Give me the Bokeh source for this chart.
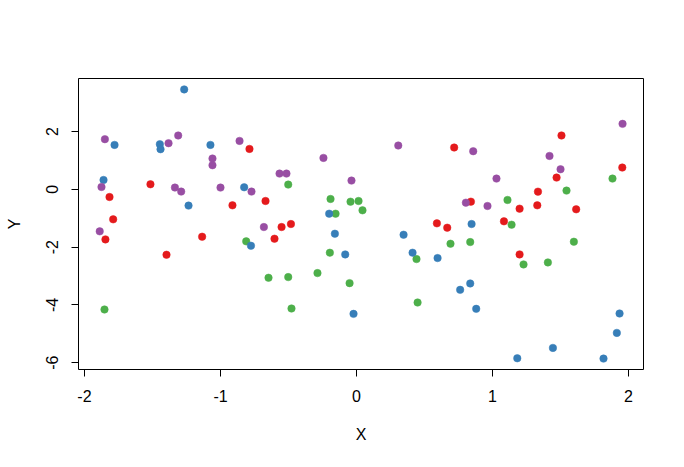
from bokeh.plotting import figure
from bokeh.models import Range1d, FixedTicker
from bokeh.embed import file_html
from bokeh.resources import INLINE

# Series values (4 groups, 25 points each)
red_x = [-1.816, -1.789, -1.846, -1.515, -1.397, -1.135, -0.912, -0.787, -0.669, -0.603,
         -0.551, -0.482, 0.591, 0.667, 0.718, 0.841, 1.084, 1.199, 1.199, 1.329,
         1.334, 1.471, 1.507, 1.615, 1.954]
red_y = [-0.267, -1.040, -1.733, 0.173, -2.265, -1.641, -0.555, 1.397, -0.405, -1.710,
         -1.306, -1.202, -1.179, -1.329, 1.445, -0.427, -1.109, -0.670, -2.253, -0.555,
         -0.081, 0.405, 1.861, -0.693, 0.752]

blue_x = [-1.267, -1.779, -1.446, -1.441, -1.074, -1.860, -0.826, -1.235, -0.776, -0.201,
          -0.159, 0.346, -0.083, 0.412, 0.596, -0.022, 0.762, 0.846, 0.836, 0.880,
          1.934, 1.914, 1.444, 1.182, 1.816]
blue_y = [3.456, 1.536, 1.560, 1.386, 1.536, 0.322, 0.069, -0.565, -1.953, -0.844,
          -1.537, -1.572, -2.253, -2.195, -2.380, -4.310, -3.478, -1.202, -3.258, -4.136,
          -4.298, -4.968, -5.488, -5.846, -5.858]

green_x = [-0.811, -0.647, -1.853, -0.502, -0.191, -0.044, 0.015, 0.044, -0.154, 0.691,
           -0.196, 0.441, -0.502, -0.287, -0.051, -0.478, 0.449, 1.882, 1.544, 1.110,
           1.140, 0.836, 1.598, 1.228, 1.407]
green_y = [-1.802, -3.061, -4.159, 0.162, -0.335, -0.428, -0.405, -0.728, -0.844, -1.883,
           -2.195, -2.415, -3.038, -2.900, -3.247, -4.125, -3.917, 0.370, -0.046, -0.370,
           -1.225, -1.826, -1.814, -2.600, -2.530]

purple_x = [-1.850, -1.311, -1.382, -0.860, -1.059, -1.059, -1.875, -1.335, -1.289, -1.000,
            -0.772, -1.888, -0.681, 0.307, -0.243, -0.566, -0.515, -0.037, 1.956, 0.858,
            1.419, 1.500, 1.029, 0.804, 0.963]
purple_y = [1.733, 1.861, 1.594, 1.674, 1.064, 0.832, 0.080, 0.059, -0.080, 0.059,
            -0.080, -1.456, -1.306, 1.514, 1.086, 0.543, 0.543, 0.301, 2.264, 1.317,
            1.154, 0.693, 0.370, -0.462, -0.578]

x_ticks = [-2, -1, 0, 1, 2]
x_tick_labels = ["-2", "-1", "0", "1", "2"]
y_ticks = [-6, -4, -2, 0, 2]
y_tick_labels = ["-6", "-4", "-2", "0", "2"]

FONT = "Liberation Sans"

p = figure(width=676, height=459, output_backend="svg", toolbar_location=None,
           x_range=Range1d(-2.044, 2.110), y_range=Range1d(-6.235, 3.833),
           min_border_left=78, min_border_right=33, min_border_top=78, min_border_bottom=90)

p.background_fill_color = "white"
p.border_fill_color = "white"
p.outline_line_color = "black"
p.outline_line_width = 1
p.xgrid.visible = False
p.ygrid.visible = False

groups = [
    (red_x, red_y, "#E41A1C"),
    (green_x, green_y, "#4DAF4A"),
    (blue_x, blue_y, "#377EB8"),
    (purple_x, purple_y, "#984EA3"),
]
for xs, ys, col in groups:
    p.scatter(xs, ys, size=7.5, fill_color=col, line_color=col, line_width=0.5)

p.xaxis.ticker = FixedTicker(ticks=x_ticks)
p.yaxis.ticker = FixedTicker(ticks=y_ticks)
p.xaxis.major_label_overrides = {t: l for t, l in zip(x_ticks, x_tick_labels)}
p.yaxis.major_label_overrides = {t: l for t, l in zip(y_ticks, y_tick_labels)}
p.xaxis.axis_label = "X"
p.yaxis.axis_label = "Y"

for ax in (p.xaxis, p.yaxis):
    ax.axis_line_color = None
    ax.major_tick_line_color = "black"
    ax.major_tick_out = 7
    ax.major_tick_in = 0
    ax.minor_tick_line_color = None
    ax.major_label_text_font = FONT
    ax.major_label_text_font_size = "16px"
    ax.major_label_text_color = "black"
    ax.axis_label_text_font = FONT
    ax.axis_label_text_font_size = "16px"
    ax.axis_label_text_font_style = "normal"
    ax.axis_label_text_color = "black"

p.xaxis.major_label_standoff = 13
p.xaxis.axis_label_standoff = 21
p.yaxis.major_label_orientation = "vertical"
p.yaxis.major_label_standoff = 13
p.yaxis.axis_label_standoff = 21

open("out.html", "w").write(file_html(p, INLINE))
